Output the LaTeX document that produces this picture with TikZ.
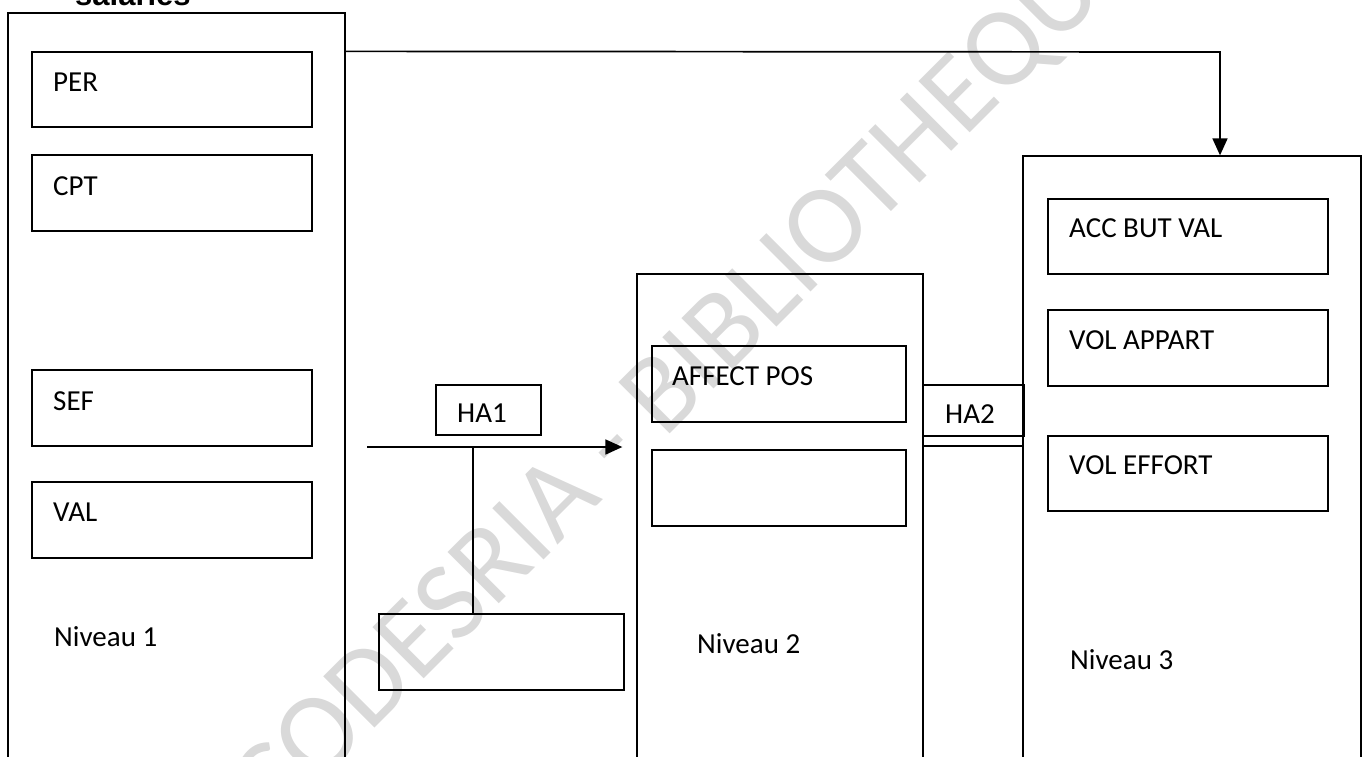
\documentclass[tikz,border=0pt]{standalone}
\usepackage{fontspec}
\setmainfont{Carlito}
\newfontfamily\headfont{Liberation Sans}
\usetikzlibrary{arrows.meta,fit,calc}
\begin{document}
\begin{tikzpicture}[x=1pt,y=-1pt,
  box/.style={draw, line width=1.3pt, rectangle, inner sep=0pt},
  lbl/.style={anchor=base west, inner sep=0pt, font=\fontsize{29}{33}\selectfont},
  conn/.style={line width=1.7pt},
  tip/.style={-{Triangle[length=17pt,width=15pt]}}]
\useasboundingbox (0,0) rectangle (1365,756);
\clip (0,0) rectangle (1365,756);
% watermark
\node[rotate=45, text=black!15, font=\fontsize{113}{113}\selectfont, inner sep=0pt] (wm) at (690,372) {CODESRIA - BIBLIOTHEQUE};
% heading
\node[anchor=base west, inner sep=0pt, font=\headfont\bfseries\fontsize{31}{34}\selectfont] (head) at (75,5) {salariés};
% level 1
\node[box, fit={(8,13) (345,775)}] (L) {};
\node[box, fit={(32,52) (312,127)}] (per) {};
\node[box, fit={(32,155) (312,231)}] (cpt) {};
\node[box, fit={(32,370) (312,446)}] (sef) {};
\node[box, fit={(32,482) (312,558)}] (val) {};
\node[lbl] (tper) at (53,91) {PER};
\node[lbl] (tcpt) at (53,195) {CPT};
\node[lbl] (tsef) at (53,410) {SEF};
\node[lbl] (tval) at (53,521) {VAL};
\node[lbl] (n1) at (54,646) {Niveau 1};
% level 2
\node[box, fit={(637,274) (923,775)}] (M) {};
\node[box, fit={(652,346) (906,422)}] (aff) {};
\node[box, fit={(652,450) (906,526)}] (emp) {};
\node[lbl] (taff) at (672,385) {AFFECT POS};
\node[lbl] (n2) at (697,653) {Niveau 2};
% level 3
\node[box, fit={(1023,156) (1361,775)}] (R) {};
\node[box, fit={(1048,199) (1328,274)}] (acc) {};
\node[box, fit={(1048,310) (1328,386)}] (vap) {};
\node[box, fit={(1048,436) (1328,511)}] (vef) {};
\node[lbl] (tacc) at (1069,237) {ACC BUT VAL};
\node[lbl] (tvap) at (1069,349) {VOL APPART};
\node[lbl] (tvef) at (1069,474) {VOL EFFORT};
\node[lbl] (n3) at (1070,669) {Niveau 3};
% HA boxes
\node[box, fit={(436,385) (541,435)}] (ha1) {};
\node[lbl] (tha1) at (457,422) {HA1};
\node[box, fit={(923,385) (1024,436)}] (ha2) {};
\node[lbl] (tha2) at (945,423) {HA2};
\node[box, fit={(379,614) (624,690)}] (bot) {};
% connectors
\coordinate (c1) at (1220,52);
\draw[conn,tip] (L.east |- per.north) -- (c1) -- (R.north -| c1);
\coordinate (a0) at (367,447);
\draw[conn,tip,shorten >=14pt] (a0) -- (a0 -| M.west);
\coordinate (j) at (473,447);
\draw[line width=1.3pt] (j) -- (j |- bot.north);
\coordinate (h2) at (0,446);
\draw[line width=1.9pt] (M.east |- h2) -- (R.west |- h2);
\end{tikzpicture}
\end{document}
